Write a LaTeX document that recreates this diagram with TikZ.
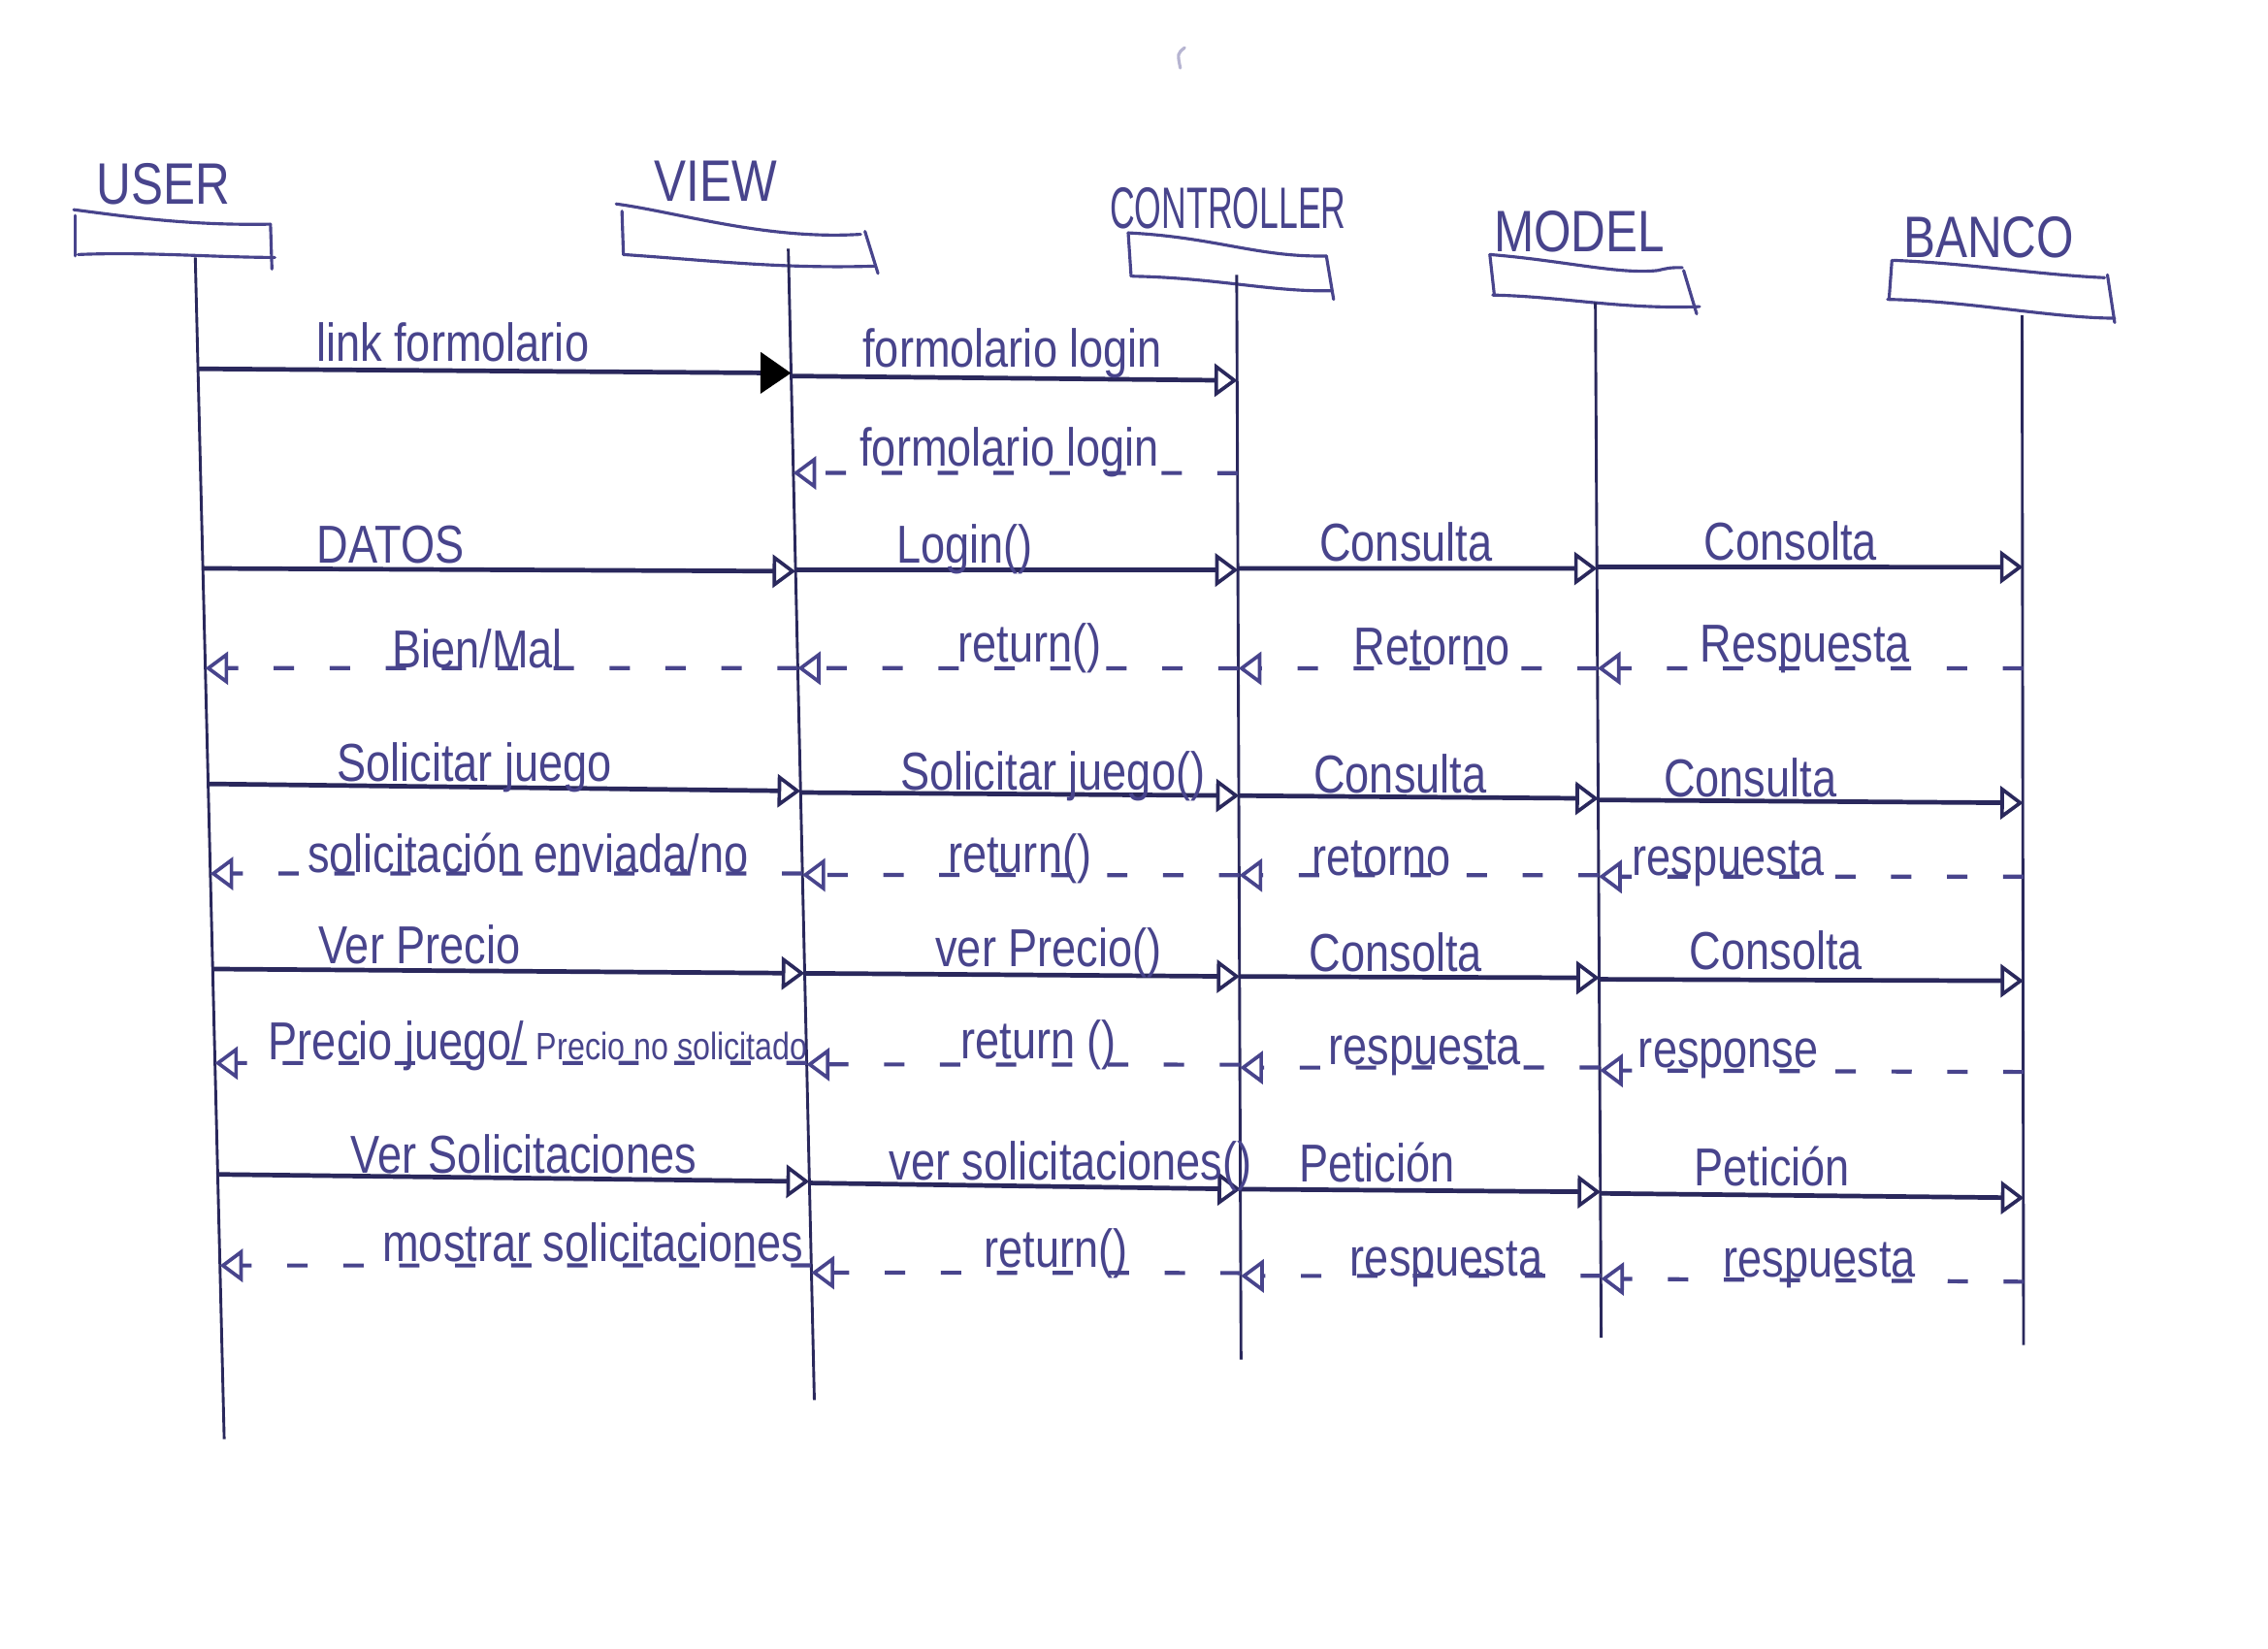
\documentclass[tikz,border=0pt]{standalone}
\usepackage{fontspec}
\setmainfont{Liberation Sans}[FakeStretch=0.82]
\usetikzlibrary{arrows.meta,calc}
\definecolor{ink}{RGB}{72,68,140}
\definecolor{inkdark}{RGB}{42,40,92}

% point where a horizontal line at height #3 crosses lifeline #2
\newcommand{\lifept}[3]{\coordinate (#1) at (intersection of #2t--#2b and 0,#3--100,#3);}
% message: style, name, source lifeline, y at source, target lifeline, y at target
\newcommand{\seqmsg}[6]{%
  \lifept{#2s}{#3}{#4}\lifept{#2d}{#5}{#6}%
  \draw[#1] (#2s) -- (#2d);}

\begin{document}
\begin{tikzpicture}[x=0.01cm,y=-0.01cm,
  head/.style={draw=ink, line width=0.6pt, line cap=round},
  lifeline/.style={draw=inkdark, line width=0.55pt},
  callmsg/.style={draw=inkdark, line width=0.9pt,
    -{Triangle[open, length=4.5pt, width=6.5pt, line width=0.7pt]}},
  firstmsg/.style={draw=inkdark, line width=0.9pt,
    -{Triangle[length=6pt, width=8pt, fill=black, color=black]}},
  retmsg/.style={draw=ink, line width=0.8pt, dash pattern=on 4pt off 7pt,
    -{Triangle[open, length=4.5pt, width=6.5pt, line width=0.7pt]}},
  lbl/.style={text=ink, font=\fontsize{10.5}{12}\selectfont, inner sep=0pt, anchor=base},
  title/.style={text=ink, font=\fontsize{11.5}{14}\selectfont, inner sep=0pt, anchor=base}
]
\fill[white] (0,0) rectangle (1568,1140);
\useasboundingbox (0,0) rectangle (1568,1140);

% small pen mark near the top
\draw[ink!40, line width=0.6pt, line cap=round] (819,33) .. controls (814,37) .. (816,47);

% ---- participants ----
\node[title] (tuser) at (113,141) {USER};
\draw[head] (51,145) .. controls (90,150) and (130,156) .. (187,155);
\draw[head] (52,149) -- (52,177);
\draw[head] (54,176) .. controls (100,174) and (150,178) .. (190,178);
\draw[head] (187,155) -- (188,186);

\node[title] (tview) at (495,139) {VIEW};
\draw[head] (426,141) .. controls (470,147) and (530,166) .. (595,162);
\draw[head] (430,146) -- (431,176);
\draw[head] (431,176) .. controls (490,180) and (540,186) .. (605,184);
\draw[head] (598,160) -- (607,189);

\node[title] (tctrl) at (849,158) {\scalebox{0.72}[1]{CONTROLLER}};
\draw[head] (780,161) .. controls (840,164) and (870,178) .. (917,177);
\draw[head] (780,161) -- (782,191);
\draw[head] (783,191) .. controls (840,192) and (880,202) .. (920,201);
\draw[head] (917,177) -- (922,207);

\node[title] (tmodel) at (1092,174) {MODEL};
\draw[head] (1030,176) .. controls (1080,180) and (1120,190) .. (1146,187) .. controls (1155,185) .. (1163,185);
\draw[head] (1030,176) -- (1033,203);
\draw[head] (1032,204) .. controls (1080,205) and (1120,214) .. (1175,212);
\draw[head] (1164,187) -- (1173,217);

\node[title] (tbanco) at (1375,178) {BANCO};
\draw[head] (1309,180) .. controls (1360,182) and (1410,190) .. (1455,192);
\draw[head] (1308,180) -- (1306,207);
\draw[head] (1305,207) .. controls (1360,208) and (1420,220) .. (1462,220);
\draw[head] (1457,190) -- (1462,223);

% ---- lifelines ----
\coordinate (ut) at (135,178);  \coordinate (ub) at (155,995);
\coordinate (vt) at (545,172);  \coordinate (vb) at (563,968);
\coordinate (ct) at (855,190);  \coordinate (cb) at (858,940);
\coordinate (mt) at (1103,209); \coordinate (mb) at (1107,925);
\coordinate (bt) at (1398,218); \coordinate (bb) at (1399,930);
\foreach \l in {u,v,c,m,b} \draw[lifeline] (\l t) -- (\l b);

% ---- messages ----
\seqmsg{firstmsg}{a1}{u}{255}{v}{258}
\seqmsg{callmsg}{a2}{v}{260}{c}{263}
\seqmsg{retmsg}{a3}{c}{327}{v}{327}

\seqmsg{callmsg}{b1}{u}{393}{v}{395}
\seqmsg{callmsg}{b2}{v}{394}{c}{394}
\seqmsg{callmsg}{b3}{c}{393}{m}{393}
\seqmsg{callmsg}{b4}{m}{392}{b}{392}
\seqmsg{retmsg}{c4}{b}{462}{m}{462}
\seqmsg{retmsg}{c3}{m}{462}{c}{462}
\seqmsg{retmsg}{c2}{c}{462}{v}{462}
\seqmsg{retmsg}{c1}{v}{462}{u}{462}

\seqmsg{callmsg}{d1}{u}{542}{v}{547}
\seqmsg{callmsg}{d2}{v}{548}{c}{550}
\seqmsg{callmsg}{d3}{c}{550}{m}{552}
\seqmsg{callmsg}{d4}{m}{553}{b}{555}
\seqmsg{retmsg}{e4}{b}{606}{m}{606}
\seqmsg{retmsg}{e3}{m}{605}{c}{605}
\seqmsg{retmsg}{e2}{c}{605}{v}{605}
\seqmsg{retmsg}{e1}{v}{604}{u}{604}

\seqmsg{callmsg}{f1}{u}{670}{v}{673}
\seqmsg{callmsg}{f2}{v}{673}{c}{675}
\seqmsg{callmsg}{f3}{c}{675}{m}{676}
\seqmsg{callmsg}{f4}{m}{677}{b}{678}
\seqmsg{retmsg}{g4}{b}{741}{m}{740}
\seqmsg{retmsg}{g3}{m}{738}{c}{738}
\seqmsg{retmsg}{g2}{c}{736}{v}{736}
\seqmsg{retmsg}{g1}{v}{735}{u}{735}

\seqmsg{callmsg}{h1}{u}{812}{v}{817}
\seqmsg{callmsg}{h2}{v}{818}{c}{822}
\seqmsg{callmsg}{h3}{c}{822}{m}{824}
\seqmsg{callmsg}{h4}{m}{825}{b}{828}
\seqmsg{retmsg}{k4}{b}{886}{m}{884}
\seqmsg{retmsg}{k3}{m}{882}{c}{882}
\seqmsg{retmsg}{k2}{c}{880}{v}{880}
\seqmsg{retmsg}{k1}{v}{875}{u}{875}

% ---- labels ----
\node[lbl] (la1) at (313,250) {link formolario};
\node[lbl] (la2) at (700,254) {formolario login};
\node[lbl] (la3) at (698,322) {formolario login};

\node[lbl] (lb1) at (270,389) {DATOS};
\node[lbl] (lb2) at (667,389) {Login()};
\node[lbl] (lb3) at (972,388) {Consulta};
\node[lbl] (lb4) at (1238,387) {Consolta};
\node[lbl] (lc1) at (330,462) {Bien/Mal};
\node[lbl] (lc2) at (712,458) {return()};
\node[lbl] (lc3) at (990,460) {Retorno};
\node[lbl] (lc4) at (1248,458) {Respuesta};

\node[lbl] (ld1) at (328,540) {Solicitar juego};
\node[lbl] (ld2) at (728,546) {Solicitar juego()};
\node[lbl] (ld3) at (968,548) {Consulta};
\node[lbl] (ld4) at (1210,551) {Consulta};
\node[lbl] (le1) at (365,603) {solicitación enviada/no};
\node[lbl] (le2) at (705,603) {return()};
\node[lbl] (le3) at (955,605) {retorno};
\node[lbl] (le4) at (1195,605) {respuesta};

\node[lbl] (lf1) at (290,666) {Ver Precio};
\node[lbl] (lf2) at (725,668) {ver Precio()};
\node[lbl] (lf3) at (965,672) {Consolta};
\node[lbl] (lf4) at (1228,670) {Consolta};
\node[lbl] (lg1) at (372,733) {Precio juego/ {\fontsize{7.5}{9}\selectfont Precio no solicitado}};
\node[lbl] (lg2) at (718,732) {return ()};
\node[lbl] (lg3) at (985,736) {respuesta};
\node[lbl] (lg4) at (1195,738) {response};

\node[lbl] (lh1) at (362,811) {Ver Solicitaciones};
\node[lbl] (lh2) at (740,816) {ver solicitaciones()};
\node[lbl] (lh3) at (952,817) {Petición};
\node[lbl] (lh4) at (1225,820) {Petición};
\node[lbl] (lk1) at (410,872) {mostrar solicitaciones};
\node[lbl] (lk2) at (730,876) {return()};
\node[lbl] (lk3) at (1000,882) {respuesta};
\node[lbl] (lk4) at (1258,883) {respuesta};
\end{tikzpicture}
\end{document}
